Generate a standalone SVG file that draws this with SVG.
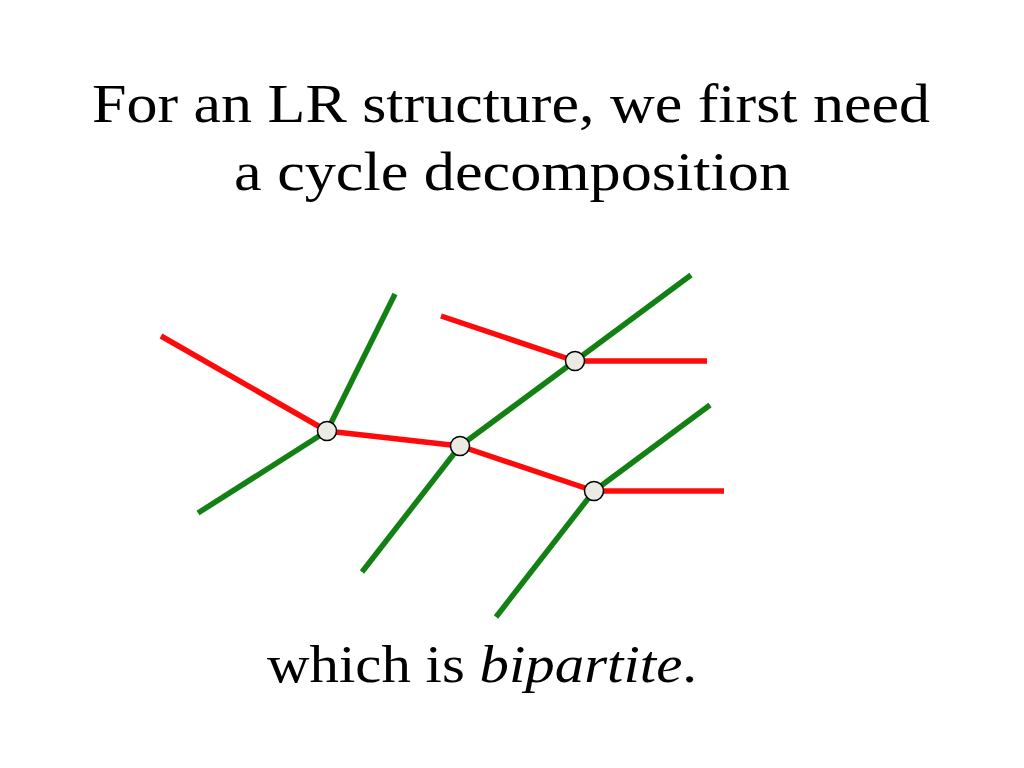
<svg xmlns="http://www.w3.org/2000/svg" width="1024" height="768" viewBox="0 0 1024 768">
<style>
.t{font-family:"Liberation Serif","DejaVu Serif",serif;fill:#000}
.r{stroke:#ff0a0a;stroke-width:5.5;stroke-linecap:butt;fill:none}
.g{stroke:#138013;stroke-width:5.5;stroke-linecap:butt;fill:none}
.n{fill:#ebebe4;stroke:#000;stroke-width:1.5}
</style>
<rect width="1024" height="768" fill="#fff"/>
<text class="t" x="511" y="122" font-size="55" text-anchor="middle" textLength="838" lengthAdjust="spacingAndGlyphs">For an LR structure, we first need</text>
<text class="t" x="512" y="190" font-size="55" text-anchor="middle" textLength="556" lengthAdjust="spacingAndGlyphs">a cycle decomposition</text>
<g id="connectors">
<line class="r" x1="161" y1="336" x2="327" y2="431"/>
<line class="r" x1="327" y1="431" x2="460" y2="446"/>
<line class="r" x1="441" y1="316" x2="575" y2="361"/>
<line class="r" x1="575" y1="361" x2="707" y2="361"/>
<line class="r" x1="460" y1="446" x2="594" y2="491"/>
<line class="r" x1="594" y1="491" x2="724" y2="491"/>
<line class="g" x1="395" y1="294" x2="327" y2="431"/>
<line class="g" x1="327" y1="431" x2="198" y2="513"/>
<line class="g" x1="362" y1="572" x2="460" y2="446"/>
<line class="g" x1="460" y1="446" x2="575" y2="361"/>
<line class="g" x1="575" y1="361" x2="691" y2="275"/>
<line class="g" x1="594" y1="491" x2="710" y2="405"/>
<line class="g" x1="594" y1="491" x2="496" y2="617"/>
</g>
<g id="nodeA"><circle class="n" cx="327" cy="431" r="9.5"/></g>
<g id="nodeB"><circle class="n" cx="460" cy="446" r="9.5"/></g>
<g id="nodeC"><circle class="n" cx="575" cy="361" r="9.5"/></g>
<g id="nodeD"><circle class="n" cx="594" cy="491" r="9.5"/></g>
<text class="t" x="267" y="682" font-size="53" textLength="430" lengthAdjust="spacingAndGlyphs">which is <tspan font-style="italic">bipartite</tspan>.</text>
</svg>
